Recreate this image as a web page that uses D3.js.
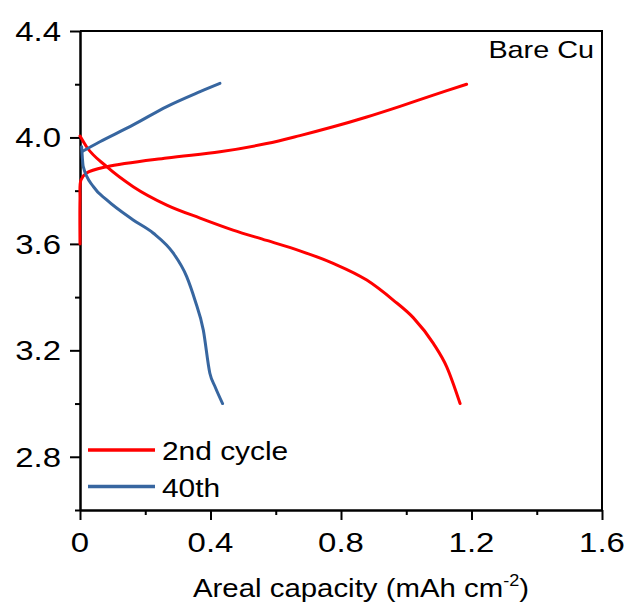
<!DOCTYPE html>
<html>
<head>
<meta charset="utf-8">
<script src="https://cdn.jsdelivr.net/npm/d3@7"></script>
<style>
  body { margin: 0; background: #fff; }
  svg { font-family: "Liberation Sans", Arial, sans-serif; }
</style>
</head>
<body>
<script>
// ---- data ----
var xTicks = [0, 0.4, 0.8, 1.2, 1.6];
var xMinor = [0.2, 0.6, 1.0, 1.4];
var yTicks = [2.8, 3.2, 3.6, 4.0, 4.4];
var yMinor = [2.6, 3.0, 3.4, 3.8, 4.2];

var seriesNames = ["2nd cycle", "40th"];
var seriesColors = ["#ff0000", "#3766a0"];

// 2nd cycle charge (capacity, voltage)
var red_charge = [[0, 3.6], [0, 3.765], [0.003, 3.84], [0.02, 3.866], [0.082, 3.89], [0.266, 3.923],
  [0.429, 3.946], [0.572, 3.977], [0.674, 4.007], [0.776, 4.04], [0.879, 4.077], [0.981, 4.117],
  [1.083, 4.159], [1.185, 4.2]];
// 2nd cycle discharge
var red_discharge = [[0, 4.005], [0.02, 3.965], [0.082, 3.89], [0.163, 3.815], [0.266, 3.746],
  [0.368, 3.697], [0.469, 3.652], [0.572, 3.613], [0.674, 3.574], [0.776, 3.527], [0.879, 3.464],
  [0.96, 3.389], [1.022, 3.322], [1.083, 3.226], [1.124, 3.138], [1.165, 3.0]];
// 40th cycle charge
var blue_charge = [[0.008, 3.948], [0.061, 3.984], [0.163, 4.047], [0.266, 4.116], [0.368, 4.172], [0.429, 4.203]];
// 40th cycle discharge
var blue_discharge = [[0.005, 3.965], [0.01, 3.89], [0.041, 3.815], [0.082, 3.765], [0.163, 3.69],
  [0.225, 3.64], [0.286, 3.565], [0.327, 3.477], [0.352, 3.39], [0.378, 3.276], [0.398, 3.114],
  [0.414, 3.063], [0.437, 3.0]];

var W = 627, H = 605;
var svg = d3.select("body").append("svg").attr("width", W).attr("height", H);

var x = d3.scaleLinear().domain([0, 1.6]).range([80, 602]);
var y = d3.scaleLinear().domain([2.6, 4.4]).range([510, 31]);

// frame on top / right
svg.append("path")
  .attr("d", "M" + x(0) + "," + y(4.4) + "H" + x(1.6) + "V" + y(2.6))
  .attr("fill", "none").attr("stroke", "#000").attr("stroke-width", 2);

// axes (tick lines only, labels drawn below)
function styleAxis(g) {
  g.selectAll("path").attr("stroke", "#000").attr("stroke-width", 2);
  g.selectAll("line").attr("stroke", "#000").attr("stroke-width", 2);
}
svg.append("g").attr("transform", "translate(" + x(0) + ",0)")
  .call(d3.axisLeft(y).tickValues(yTicks).tickSize(10).tickSizeOuter(0).tickFormat(""))
  .call(styleAxis);
svg.append("g").attr("transform", "translate(" + x(0) + ",0)")
  .call(d3.axisLeft(y).tickValues(yMinor).tickSize(5).tickSizeOuter(0).tickFormat(""))
  .call(styleAxis);
svg.append("g").attr("transform", "translate(0," + y(2.6) + ")")
  .call(d3.axisBottom(x).tickValues(xTicks).tickSize(10).tickSizeOuter(0).tickFormat(""))
  .call(styleAxis);
svg.append("g").attr("transform", "translate(0," + y(2.6) + ")")
  .call(d3.axisBottom(x).tickValues(xMinor).tickSize(5).tickSizeOuter(0).tickFormat(""))
  .call(styleAxis);

// tick labels (the original is a bit stretched sideways)
var sx = 1.22;
svg.selectAll(".ylab").data(yTicks).enter().append("text")
  .attr("transform", function(d) { return "translate(61," + (y(d) + 10) + ") scale(" + sx + ",1)"; })
  .attr("text-anchor", "end").attr("font-size", 27)
  .text(d3.format(".1f"));
svg.selectAll(".xlab").data(xTicks).enter().append("text")
  .attr("transform", function(d) { return "translate(" + x(d) + ",552) scale(" + sx + ",1)"; })
  .attr("text-anchor", "middle").attr("font-size", 27)
  .text(function(d) { return d === 0 ? "0" : d3.format(".1f")(d); });

// axis title
var title = svg.append("text")
  .attr("transform", "translate(193,597) scale(1.13,1)")
  .attr("font-size", 26);
title.append("tspan").text("Areal capacity (mAh cm");
title.append("tspan").attr("font-size", 16).attr("dy", -11).text("-2");
title.append("tspan").attr("dy", 11).text(")");

svg.append("text")
  .attr("transform", "translate(594,58) scale(1.2,1)")
  .attr("text-anchor", "end").attr("font-size", 24)
  .text("Bare Cu");

// curves: charge ones start with a vertical bit, so catmull-rom; discharge ones are monotone in x
var lineCR = d3.line()
  .x(function(d) { return x(d[0]); })
  .y(function(d) { return y(d[1]); })
  .curve(d3.curveCatmullRom.alpha(0.5));
var lineMono = d3.line()
  .x(function(d) { return x(d[0]); })
  .y(function(d) { return y(d[1]); })
  .curve(d3.curveMonotoneX);

var curves = [
  { data: red_charge, c: 0, gen: lineCR }, { data: red_discharge, c: 0, gen: lineMono },
  { data: blue_charge, c: 1, gen: lineCR }, { data: blue_discharge, c: 1, gen: lineMono }
];
svg.selectAll(".curve").data(curves).enter().append("path")
  .attr("class", "curve")
  .attr("d", function(d) { return d.gen(d.data); })
  .attr("fill", "none")
  .attr("stroke", function(d) { return seriesColors[d.c]; })
  .attr("stroke-width", 3)
  .attr("stroke-linecap", "round");

// legend
var leg = svg.selectAll(".leg").data(seriesNames).enter().append("g")
  .attr("transform", function(d, i) { return "translate(88," + (450 + i * 36.5) + ")"; });
leg.append("line").attr("x1", 0).attr("x2", 67)
  .attr("stroke", function(d, i) { return seriesColors[i]; })
  .attr("stroke-width", 3.5);
leg.append("text")
  .attr("transform", "translate(74,10) scale(1.15,1)")
  .attr("font-size", 26)
  .text(function(d) { return d; });
</script>
</body>
</html>
